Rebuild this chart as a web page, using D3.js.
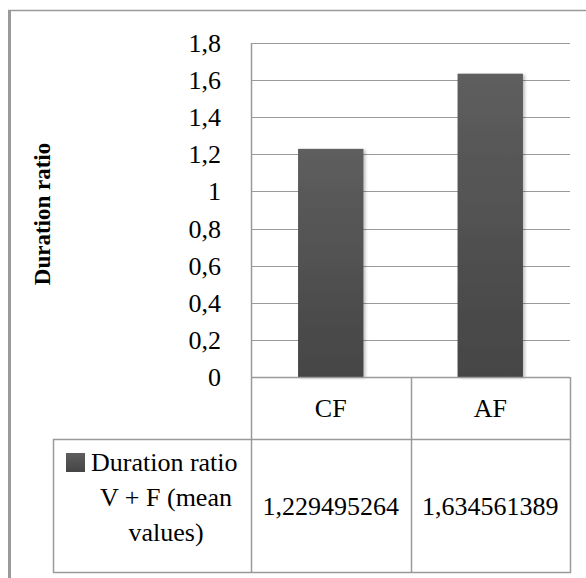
<!DOCTYPE html>
<html><head><meta charset="utf-8"><script src="https://cdn.jsdelivr.net/npm/d3@7"></script></head>
<body style="margin:0">
<script>
// ---- data ----
const categories = ["CF", "AF"];
const values = [1.229495264, 1.634561389];
const valueLabels = ["1,229495264", "1,634561389"];
const yTicks = [0, 0.2, 0.4, 0.6, 0.8, 1, 1.2, 1.4, 1.6, 1.8];
const yTickLabels = ["0", "0,2", "0,4", "0,6", "0,8", "1", "1,2", "1,4", "1,6", "1,8"];
const seriesLabelLines = ["Duration ratio", "V + F (mean", "values)"];
const axisTitle = "Duration ratio";

// ---- layout ----
const W = 586, H = 578;
const plotL = 251, plotR = 570, plotT = 43, plotB = 377;
const row1B = 439, row2B = 572, legendL = 53;
const gridColor = "#9a9a9a";
const fontStyle = (size, weight) => `font: ${weight || "normal"} ${size}px 'Liberation Serif', 'Times New Roman', Tinos, serif;`;

const svg = d3.select("body").append("svg").attr("width", W).attr("height", H);

const defs = svg.append("defs");
const grad = defs.append("linearGradient").attr("id", "barGrad")
  .attr("x1", 0).attr("y1", 0).attr("x2", 0).attr("y2", 1);
grad.append("stop").attr("offset", "0%").attr("stop-color", "#5e5e5e");
grad.append("stop").attr("offset", "100%").attr("stop-color", "#454545");
const shadowF = defs.append("filter").attr("id", "shadow").attr("x", "-20%").attr("y", "-5%").attr("width", "150%").attr("height", "115%");
shadowF.append("feDropShadow").attr("dx", 2).attr("dy", 1).attr("stdDeviation", 1.5).attr("flood-color", "#000").attr("flood-opacity", 0.25);

const y = d3.scaleLinear().domain([0, 1.8]).range([plotB, plotT]);
const x = d3.scaleBand().domain(categories).range([plotL, plotR]).padding(0);
const barW = x.bandwidth() * 0.41;

// outer frame (top and left)
svg.append("line").attr("x1", 8).attr("x2", W).attr("y1", 10.5).attr("y2", 10.5)
  .attr("stroke", "#9a9a9a").attr("stroke-width", 1.5);
svg.append("line").attr("x1", 9.5).attr("x2", 9.5).attr("y1", 10).attr("y2", H)
  .attr("stroke", "#9a9a9a").attr("stroke-width", 3);

// gridlines
svg.append("g").selectAll("line").data(yTicks.filter(t => t > 0)).join("line")
  .attr("x1", plotL).attr("x2", plotR)
  .attr("y1", d => Math.round(y(d)) + 0.5).attr("y2", d => Math.round(y(d)) + 0.5)
  .attr("stroke", gridColor).attr("stroke-width", 1.2);

// bars
svg.append("g").selectAll("rect").data(values).join("rect")
  .attr("x", (d, i) => x(categories[i]) + (x.bandwidth() - barW) / 2)
  .attr("width", barW)
  .attr("y", d => y(d))
  .attr("height", d => y(0) - y(d))
  .attr("fill", "url(#barGrad)")
  .attr("filter", "url(#shadow)");

// table lines
const tbl = svg.append("g").attr("stroke", gridColor).attr("stroke-width", 1.5);
tbl.append("line").attr("x1", plotL).attr("x2", plotR).attr("y1", plotB + 0.5).attr("y2", plotB + 0.5);
tbl.append("line").attr("x1", legendL).attr("x2", plotR).attr("y1", row1B + 0.5).attr("y2", row1B + 0.5);
tbl.append("line").attr("x1", legendL).attr("x2", plotR + 1).attr("y1", row2B + 0.5).attr("y2", row2B + 0.5);
tbl.append("line").attr("x1", legendL + 0.5).attr("x2", legendL + 0.5).attr("y1", row1B).attr("y2", row2B + 1);
tbl.append("line").attr("x1", plotL + 0.5).attr("x2", plotL + 0.5).attr("y1", plotT).attr("y2", row2B + 1);
tbl.selectAll(".vd").data(categories).join("line")
  .attr("x1", d => Math.round(x(d) + x.bandwidth()) + 0.5)
  .attr("x2", d => Math.round(x(d) + x.bandwidth()) + 0.5)
  .attr("y1", plotB).attr("y2", row2B + 1);

// legend key
svg.append("rect").attr("x", 66).attr("y", 453).attr("width", 19).attr("height", 19)
  .attr("fill", "url(#barGrad)");

// tick labels
svg.selectAll("text.tick").data(yTicks).join("text").attr("class", "tick")
  .attr("style", fontStyle(26))
  .attr("x", 221).attr("y", d => y(d) + 9)
  .attr("text-anchor", "end")
  .text((d, i) => yTickLabels[i]);

// axis title
svg.selectAll("text.title").data([axisTitle]).join("text").attr("class", "title")
  .attr("style", fontStyle(23, "bold"))
  .attr("transform", `translate(50,214) rotate(-90)`)
  .attr("text-anchor", "middle")
  .text(d => d);

// category labels
svg.selectAll("text.cat").data(categories).join("text").attr("class", "cat")
  .attr("style", fontStyle(26))
  .attr("x", d => x(d) + x.bandwidth() / 2).attr("y", (plotB + row1B) / 2 + 9)
  .attr("text-anchor", "middle")
  .text(d => d);

// value labels
svg.selectAll("text.val").data(valueLabels).join("text").attr("class", "val")
  .attr("style", fontStyle(26))
  .attr("x", (d, i) => x(categories[i]) + x.bandwidth() / 2).attr("y", (row1B + row2B) / 2 + 9)
  .attr("text-anchor", "middle")
  .text(d => d);

// legend text
const lineYs = [462, 497, 532];
svg.selectAll("text.leg").data(seriesLabelLines).join("text").attr("class", "leg")
  .attr("style", fontStyle(26))
  .attr("x", (d, i) => i === 0 ? 91 : 166)
  .attr("y", (d, i) => lineYs[i] + 9)
  .attr("text-anchor", (d, i) => i === 0 ? "start" : "middle")
  .text(d => d);
</script>
</body></html>
